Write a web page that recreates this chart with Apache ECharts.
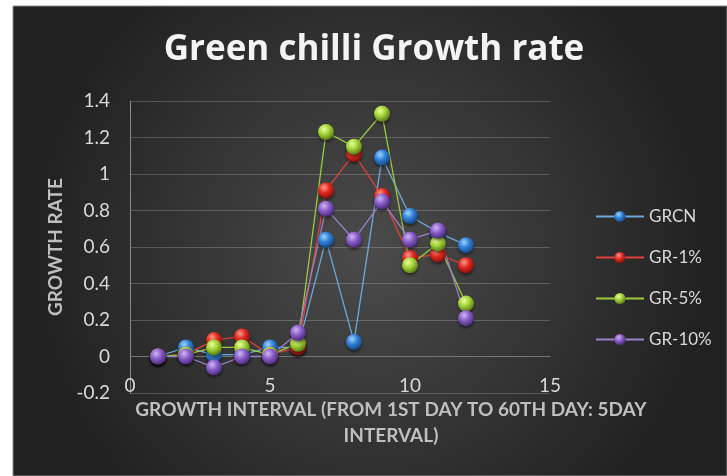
<!DOCTYPE html>
<html>
<head>
<meta charset="utf-8">
<script src="https://cdn.jsdelivr.net/npm/echarts@6/dist/echarts.min.js"></script>
<style>
  html, body { margin: 0; padding: 0; background: #ffffff; }
  #chart { width: 727px; height: 476px; }
</style>
</head>
<body>
<div id="chart"></div>
<script>
// Growth interval index (1st to 60th day, 5-day steps)
const intervals = [1, 2, 3, 4, 5, 6, 7, 8, 9, 10, 11, 12];

// Growth rate per treatment
const grcn  = [0, 0.05, 0.01, 0.01, 0.05, 0.05, 0.64, 0.08, 1.09, 0.77, 0.68, 0.61];
const gr1   = [0, 0.01, 0.09, 0.11, 0.01, 0.05, 0.91, 1.11, 0.88, 0.54, 0.56, 0.50];
const gr5   = [0, 0.01, 0.05, 0.05, 0.01, 0.07, 1.23, 1.15, 1.33, 0.50, 0.62, 0.29];
const gr10  = [0, 0, -0.06, 0, 0, 0.13, 0.81, 0.64, 0.85, 0.64, 0.69, 0.21];

const seriesNames = ['GRCN', 'GR-1%', 'GR-5%', 'GR-10%'];
const seriesValues = [grcn, gr1, gr5, gr10];

// line colour, sphere highlight, sphere body, sphere shade
const palette = [
  ['#6fa8dc', '#9fd4ff', '#2f7fd6', '#123f7a'],
  ['#e0403a', '#ff9a8a', '#e02a20', '#7a0d08'],
  ['#9ccc3c', '#eaff9a', '#a2d23a', '#4f6e0e'],
  ['#9a80c8', '#d0b8f4', '#8a5cc8', '#3e2470']
];

function sphere(c) {
  return {
    type: 'radial', x: 0.38, y: 0.32, r: 0.75,
    colorStops: [
      { offset: 0, color: c[1] },
      { offset: 0.45, color: c[2] },
      { offset: 1, color: c[3] }
    ]
  };
}

const axisFont = 'Lato, "Open Sans", sans-serif';

const chart = echarts.init(document.getElementById('chart'), null, { renderer: 'canvas' });

chart.setOption({
  backgroundColor: '#ffffff',
  animation: false,
  graphic: [
    {
      type: 'rect', z: -10, silent: true,
      shape: { x: 13, y: 6, width: 714, height: 470 },
      style: {
        fill: {
          type: 'radial', x: 0.5, y: 0.52, r: 0.72,
          colorStops: [
            { offset: 0, color: '#4b4b4b' },
            { offset: 1, color: '#212121' }
          ]
        },
        stroke: '#8a8a8a', lineWidth: 1
      }
    },
    {
      type: 'text', silent: true, z: 10,
      x: 374, y: 50,
      style: {
        text: 'Green chilli Growth rate',
        font: 'bold 35px "Open Sans", sans-serif',
        fill: '#f4f4f4',
        align: 'center', verticalAlign: 'middle',
        shadowColor: 'rgba(0,0,0,0.75)', shadowBlur: 4, shadowOffsetY: 3
      }
    },
    {
      type: 'text', silent: true, z: 10,
      x: 391, y: 423,
      style: {
        text: 'GROWTH INTERVAL (FROM 1ST DAY TO 60TH DAY: 5DAY\nINTERVAL)',
        font: 'bold 19px ' + axisFont,
        fill: '#bfbfbf',
        align: 'center', verticalAlign: 'middle',
        lineHeight: 26
      }
    }
  ],
  grid: { left: 130, right: 177, top: 101, bottom: 83 },
  legend: {
    orient: 'vertical',
    left: 595, top: 208, padding: 0,
    itemWidth: 48, itemHeight: 14, itemGap: 24,
    textStyle: { color: '#d9d9d9', fontSize: 17, fontFamily: axisFont },
    data: seriesNames
  },
  xAxis: {
    type: 'value',
    min: 0, max: 15, interval: 5,
    // the horizontal axis crosses the vertical one at zero
    offset: -36.5,
    axisLine: { show: true, onZero: false, lineStyle: { color: '#767676', width: 1 } },
    axisTick: { show: false },
    splitLine: { show: false },
    axisLabel: { color: '#d9d9d9', fontSize: 19, fontFamily: axisFont, margin: 20 }
  },
  yAxis: {
    type: 'value',
    min: -0.2, max: 1.4, interval: 0.2,
    name: 'GROWTH RATE',
    nameLocation: 'middle',
    nameGap: 64,
    nameTextStyle: { color: '#bfbfbf', fontSize: 19, fontWeight: 'bold', fontFamily: axisFont },
    axisLine: { show: true, onZero: false, lineStyle: { color: '#8c8c8c', width: 1 } },
    axisTick: { show: false },
    splitLine: { show: true, lineStyle: { color: 'rgba(255,255,255,0.2)', width: 1 } },
    axisLabel: {
      color: '#d9d9d9', fontSize: 19, fontFamily: axisFont, margin: 20,
      formatter: v => String(Math.round(v * 10) / 10)
    }
  },
  series: seriesNames.map((name, i) => ({
    name,
    type: 'line',
    data: intervals.map((x, k) => [x, seriesValues[i][k]]),
    symbol: 'circle',
    symbolSize: 16,
    lineStyle: { color: palette[i][0], width: 1.3 },
    itemStyle: {
      color: sphere(palette[i]),
      shadowColor: 'rgba(0,0,0,0.5)', shadowBlur: 3, shadowOffsetY: 2
    },
    emphasis: { disabled: true }
  }))
});
</script>
</body>
</html>
